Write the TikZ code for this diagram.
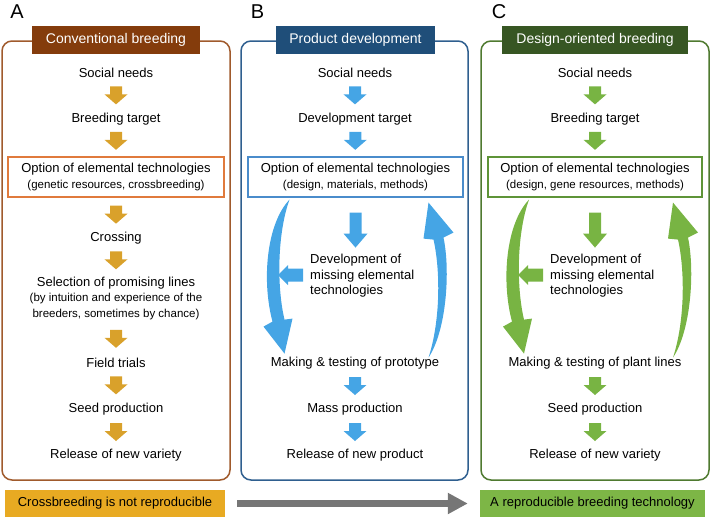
\documentclass[tikz,border=0pt]{standalone}
\usepackage{fontspec}
\setmainfont{Liberation Sans}
\usetikzlibrary{arrows.meta,calc}
\definecolor{browntitle}{HTML}{843C0C}
\definecolor{brownline}{HTML}{A05A2C}
\definecolor{orangebox}{HTML}{E07A3C}
\definecolor{goldarr}{HTML}{D9A12B}
\definecolor{goldnote}{HTML}{E8AA22}
\definecolor{bluetitle}{HTML}{1F4E79}
\definecolor{blueline}{HTML}{2F5F8F}
\definecolor{bluebox}{HTML}{4A8CCB}
\definecolor{bluearr}{HTML}{45A5E5}
\definecolor{greentitle}{HTML}{375623}
\definecolor{greenline}{HTML}{4F7A30}
\definecolor{greenbox}{HTML}{5E9438}
\definecolor{greenarr}{HTML}{78B443}
\definecolor{greennote}{HTML}{7DB646}
\definecolor{greyarr}{HTML}{767676}
\newcommand{\subtxt}{\fontsize{11.5}{15}\selectfont}
\tikzset{
  pics/blk/.style n args={4}{code={
    \fill ({-#1/2},{-#4/2}) -- ({#1/2-#2},{-#4/2}) -- ({#1/2-#2},{-#3/2}) -- ({#1/2},0)
      -- ({#1/2-#2},{#3/2}) -- ({#1/2-#2},{#4/2}) -- ({-#1/2},{#4/2}) -- cycle;
  }},
  pics/loopl/.style={code={
    \fill (-66,2) .. controls (-89,26) and (-94,83) .. (-83,124) -- (-92,129) -- (-71,156)
      -- (-63,121) -- (-71,122) .. controls (-79,88) and (-78,35) .. (-66,2) -- cycle;
  }},
  pics/loopr/.style={code={
    \fill (73,160) .. controls (91,133) and (95,73) .. (88,40) -- (98,35) -- (73,5)
      -- (68,41) -- (78,42) .. controls (85,73) and (85,123) .. (73,160) -- cycle;
  }}
}
\newcommand{\dnarrow}[3]{\pic[color=#1, rotate=-90] at ($(#2.south)!.5!(#3.north)$) {blk={18}{10}{23}{12}};}
\begin{document}
\begin{tikzpicture}[x=1pt,y=-1pt,
  txt/.style={font=\fontsize{13}{15.5}\selectfont, align=center, inner sep=0pt},
  optbox/.style={txt, draw, line width=1.2pt, minimum height=40pt, fill=white},
  title/.style={font=\fontsize{14}{16}\selectfont, text=white, minimum height=28pt, inner sep=0pt},
  frame/.style={line width=1.5pt, rounded corners=10pt},
  letter/.style={font=\fontsize{20}{22}\selectfont, inner sep=0pt},
  note/.style={txt, minimum height=27pt}]
\useasboundingbox (0,0) rectangle (711,517);
% A: conventional breeding
\node[letter] at (17,12) {A};
\draw[frame, brownline] (2,41) rectangle (230,480);
\node[title, fill=browntitle, minimum width=168pt] (a-title) at (116,40) {Conventional breeding};
\node[txt] (a-needs) at (116,73) {Social needs};
\node[txt] (a-target) at (116,119) {Breeding target};
\node[optbox, draw=orangebox, minimum width=216pt] (a-option) at (116,177) {Option of elemental technologies\\{\subtxt (genetic resources, crossbreeding)}};
\node[txt] (a-cross) at (116,238) {Crossing};
\node[txt] (a-select) at (116,298) {Selection of promising lines\\{\subtxt (by intuition and experience of the}\\{\subtxt breeders, sometimes by chance)}};
\node[txt] (a-field) at (116,363) {Field trials};
\node[txt] (a-seed) at (116,409) {Seed production};
\node[txt] (a-release) at (116,455) {Release of new variety};
\dnarrow{goldarr}{a-needs}{a-target}
\dnarrow{goldarr}{a-target}{a-option}
\dnarrow{goldarr}{a-option}{a-cross}
\dnarrow{goldarr}{a-cross}{a-select}
\dnarrow{goldarr}{a-select}{a-field}
\dnarrow{goldarr}{a-field}{a-seed}
\dnarrow{goldarr}{a-seed}{a-release}
% B: product development
\node[letter] at (257.5,12) {B};
\draw[frame, blueline] (241,41) rectangle (468,480);
\node[title, fill=bluetitle, minimum width=159pt] (b-title) at (355.5,40) {Product development};
\node[txt] (b-needs) at (355,73) {Social needs};
\node[txt] (b-target) at (355,119) {Development target};
\node[optbox, draw=bluebox, minimum width=215pt] (b-option) at (355.5,177) {Option of elemental technologies\\{\subtxt (design, materials, methods)}};
\node[txt, align=left, anchor=west] (b-dev) at (310,276) {Development of\\missing elemental\\technologies};
\node[txt] (b-make) at (355,363) {Making \& testing of prototype};
\node[txt] (b-mass) at (355,409) {Mass production};
\node[txt] (b-release) at (355,455) {Release of new product};
\dnarrow{bluearr}{b-needs}{b-target}
\dnarrow{bluearr}{b-target}{b-option}
\dnarrow{bluearr}{b-make}{b-mass}
\dnarrow{bluearr}{b-mass}{b-release}
\pic[color=bluearr, rotate=-90] at ($(b-option.south)+(0,32.5)$) {blk={35}{14}{24}{12}};
\pic[color=bluearr, rotate=180] at ($(b-dev.west)+(-19.5,-1)$) {blk={25}{10}{20}{13}};
\pic[color=bluearr] at (b-option.south) {loopl};
\pic[color=bluearr] at (b-option.south) {loopr};
% C: design-oriented breeding
\node[letter] at (499,12) {C};
\draw[frame, greenline] (481,41) rectangle (709,480);
\node[title, fill=greentitle, minimum width=186pt] (c-title) at (595,40) {Design-oriented breeding};
\node[txt] (c-needs) at (595,73) {Social needs};
\node[txt] (c-target) at (595,119) {Breeding target};
\node[optbox, draw=greenbox, minimum width=214pt] (c-option) at (595,177) {Option of elemental technologies\\{\subtxt (design, gene resources, methods)}};
\node[txt, align=left, anchor=west] (c-dev) at (550,276) {Development of\\missing elemental\\technologies};
\node[txt] (c-make) at (595,363) {Making \& testing of plant lines};
\node[txt] (c-seed) at (595,409) {Seed production};
\node[txt] (c-release) at (595,455) {Release of new variety};
\dnarrow{greenarr}{c-needs}{c-target}
\dnarrow{greenarr}{c-target}{c-option}
\dnarrow{greenarr}{c-make}{c-seed}
\dnarrow{greenarr}{c-seed}{c-release}
\pic[color=greenarr, rotate=-90] at ($(c-option.south)+(0,32.5)$) {blk={35}{14}{24}{12}};
\pic[color=greenarr, rotate=180] at ($(c-dev.west)+(-19.5,-1)$) {blk={25}{10}{20}{13}};
\pic[color=greenarr] at (c-option.south) {loopl};
\pic[color=greenarr] at ($(c-option.south)+(5,0)$) {loopr};
% bottom row
\node[note, fill=goldnote, minimum width=220pt] (a-note) at (115,503.5) {Crossbreeding is not reproducible};
\node[note, fill=greennote, minimum width=225pt] (c-note) at (592.5,503.5) {A reproducible breeding technology};
\draw[greyarr, line width=7pt, -{Triangle[length=20pt,width=20pt]}] ([xshift=12pt]a-note.east) -- ([xshift=-12pt]c-note.west);
\end{tikzpicture}
\end{document}
